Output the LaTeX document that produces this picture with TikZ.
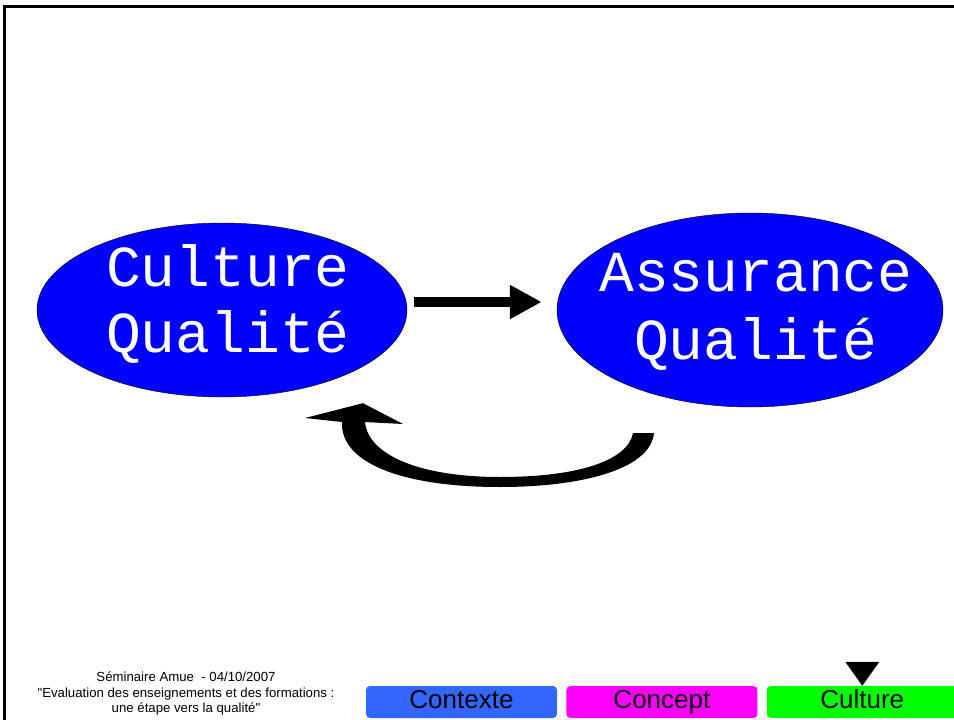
\documentclass[tikz,border=0pt]{standalone}
\usepackage{fontspec}
\setmainfont{Liberation Sans}
\newfontfamily\slidemono{Liberation Mono}
\newfontfamily\footerfont{Liberation Sans}[Ligatures=TeXOff]
\usepackage{tikz}
\usetikzlibrary{positioning}
\usetikzlibrary{calc}
\usetikzlibrary{shapes.geometric}
\usetikzlibrary{arrows.meta}
\definecolor{slideblue}{RGB}{0,0,255}
\definecolor{tabblue}{RGB}{51,102,255}
\definecolor{tabpink}{RGB}{255,0,255}
\definecolor{tabgreen}{RGB}{0,255,0}
\tikzset{basic bubble/.style={draw=black,
                              ellipse,
                              fill=slideblue,
                              inner sep=0pt}}
\tikzset{bubble text/.style={text=white,
                             inner sep=0pt,
                             align=center,
                             font=\slidemono\fontsize{58}{66}\selectfont}}
\tikzset{tab/.style={rounded corners=4pt,
                     minimum width=191pt,
                     minimum height=32pt,
                     inner sep=0pt,
                     text height=18pt,
                     text depth=6pt,
                     font=\fontsize{26}{26}\selectfont}}
\tikzset{edge/.style={draw,
                      line width=10pt}}

\begin{document}
\begin{tikzpicture}[x=1pt,y=-1pt]
      \useasboundingbox (0,0) rectangle (954,720);

      % frame
      \draw [line width=3pt] (4.5,720) -- (4.5,6.5) -- (954,6.5);

      % bubbles
      \node [basic bubble,minimum width=370pt,minimum height=174pt,
      label={[bubble text,xshift=6pt,yshift=6pt]center:Culture\\Qualité}] (culture) at (222,310) {};
      \node [basic bubble,minimum width=386pt,minimum height=194pt,
      label={[bubble text,xshift=6pt,yshift=-2pt,font=\slidemono\fontsize{58}{68}\selectfont]center:Assurance\\Qualité}] (assurance) at (750,310) {};

      % edges
      \draw [edge,-{Triangle[length=32pt,width=32pt]},shorten <=7pt,shorten >=15pt]
      ($(culture.east)+(0,-8)$) -- ($(assurance.west)+(0,-8)$);

      \coordinate (back from) at ($(assurance.south)+(-96,26)$);
      \coordinate (back to) at ($(culture.south)+(141,6)$);
      \fill (back from) .. controls (650,470) and (580,487) .. (500,487)
      .. controls (400,487) and (340,462) .. (342,422) -- (305,418) -- (back to)
      -- (403,424) -- (365,422) .. controls (368,455) and (420,477) .. (500,477)
      .. controls (580,477) and (628,460) .. (633,433) -- cycle;

      % tabs
      \node [tab,fill=tabblue] (contexte) at (461.5,702) {Contexte};
      \node [tab,fill=tabpink,right=9pt of contexte] (concept) {Concept};
      \node [tab,fill=tabgreen,right=9pt of concept] (culture tab) {Culture};
      \fill (culture tab.north) -- ++(-17,-24) -- ++(34,0) -- cycle;

      % footer
      \node [align=center,font=\footerfont\fontsize{13.2}{15.5}\selectfont] (footer) at (186,694)
      {Séminaire Amue\ \ - 04/10/2007\\"Evaluation des enseignements et des formations :\\une étape vers la qualité"};

\end{tikzpicture}
\end{document}
